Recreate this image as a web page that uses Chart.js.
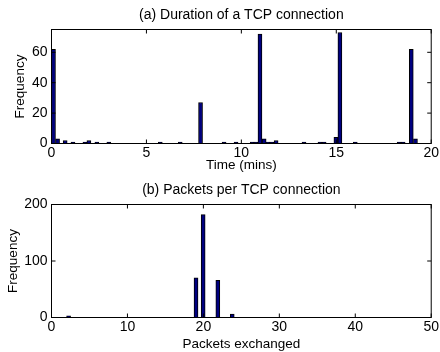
<!DOCTYPE html>
<html><head><meta charset="utf-8">
<script src="https://cdn.jsdelivr.net/npm/chart.js@4.4.1/dist/chart.umd.min.js"></script>
<style>
html,body{margin:0;padding:0;background:#fff;}
#wrap{position:relative;width:440px;height:352px;}
#wrap canvas{position:absolute;left:0;}
#cA{top:0}
#cB{top:176px}
</style></head><body>
<div id="wrap"><canvas id="cA" width="440" height="176"></canvas><canvas id="cB" width="440" height="176"></canvas></div>
<script>
// (a) duration histogram: bin centre in minutes, count
const durCenters = [0.105,0.32,0.72,1.13,1.76,1.97,2.39,3.02,5.73,6.78,7.85,9.09,9.72,10.57,10.76,10.98,11.2,11.4,11.6,11.83,13.3,14.14,14.36,14.98,15.19,16.0,18.31,18.52,18.95,19.17];
const durCounts  = [62,3,2,1,1,2,1,1,1,1,27,1,1,1,1,72,3,1,1,2,1,1,1,4,73,1,1,1,62,3];
const durXTicks  = [0,5,10,15,20];
const durYTicks  = [0,20,40,60];

// (b) packets histogram
const pktCenters = [2.25,19.03,19.97,21.9,23.8];
const pktCounts  = [3,70,182,66,6];
const pktXTicks  = [0,10,20,30,40,50];
const pktYTicks  = [0,100,200];

const FONT = "'Liberation Sans', Arial, sans-serif";
Chart.defaults.font.family = FONT;
Chart.defaults.color = '#000';

// matlab style box with inward ticks on all four sides
const matlabBox = {
  id:'matlabBox',
  afterDatasetsDraw(chart) {
    const {ctx, chartArea:a, scales:{x,y}} = chart;
    const tl = 4;
    ctx.save();
    ctx.strokeStyle = '#000'; ctx.lineWidth = 1;
    ctx.beginPath();
    x.ticks.forEach(t => {
      const px = x.getPixelForValue(t.value);
      ctx.moveTo(px, a.bottom); ctx.lineTo(px, a.bottom - tl);
      ctx.moveTo(px, a.top); ctx.lineTo(px, a.top + tl);
    });
    y.ticks.forEach(t => {
      const py = y.getPixelForValue(t.value);
      ctx.moveTo(a.left, py); ctx.lineTo(a.left + tl, py);
      ctx.moveTo(a.right, py); ctx.lineTo(a.right - tl, py);
    });
    ctx.stroke();
    ctx.strokeRect(a.left, a.top, a.right - a.left, a.bottom - a.top);
    ctx.restore();
  }
};

function mk(id, cfg) {
  const pts = cfg.centers.map((c,i) => ({ x:c, y:cfg.counts[i] }));
  return new Chart(document.getElementById(id), {
    type:'bar',
    data:{ datasets:[{ data:pts, backgroundColor:'#000080', borderColor:'#000', borderWidth:1, barThickness:4 }] },
    options:{
      responsive:false, animation:false,
      layout:{ padding:{ left:cfg.padLeft, right:8.5, top:0, bottom:0 } },
      plugins:{
        legend:{ display:false }, tooltip:{ enabled:false },
        title:{ display:true, fullSize:false, text:cfg.title, color:'#000', font:{ size:14, weight:'normal' }, padding:{ top:cfg.tTop, bottom:cfg.tBot } }
      },
      scales:{
        x:{ type:'linear', min:cfg.xTicks[0], max:cfg.xTicks[cfg.xTicks.length-1], offset:false,
            grid:{ display:false, drawTicks:false, offset:false }, border:{ display:false },
            ticks:{ font:{ size:14 }, padding:1, maxRotation:0, autoSkip:false },
            afterBuildTicks:s => { s.ticks = cfg.xTicks.map(v => ({ value:v })); },
            afterFit:s => { s.height = cfg.xH; },
            title:{ display:true, text:cfg.xTitle, font:{ size:13.5 }, padding:{ top:0, bottom:cfg.xtPad } } },
        y:{ min:0, max:cfg.yMax,
            grid:{ display:false, drawTicks:false }, border:{ display:false },
            ticks:{ font:{ size:14 }, padding:4 },
            afterBuildTicks:s => { s.ticks = cfg.yTicks.map(v => ({ value:v })); },
            afterFit:s => { s.width = 51.5 - cfg.padLeft; },
            title:{ display:true, text:'Frequency', font:{ size:13.5 }, padding:{ top:4, bottom:0 } } }
      }
    },
    plugins:[matlabBox]
  });
}

mk('cA', { centers:durCenters, counts:durCounts, xTicks:durXTicks, yTicks:durYTicks, yMax:75,
  title:'(a) Duration of a TCP connection', xTitle:'Time (mins)',
  padLeft:8, tTop:6.6, tBot:6.1, xH:32.5, xtPad:3 });

mk('cB', { centers:pktCenters, counts:pktCounts, xTicks:pktXTicks, yTicks:pktYTicks, yMax:200,
  title:'(b) Packets per TCP connection', xTitle:'Packets exchanged',
  padLeft:1, tTop:6.1, tBot:5.6, xH:34.5, xtPad:-0.5 });
</script>
</body></html>
